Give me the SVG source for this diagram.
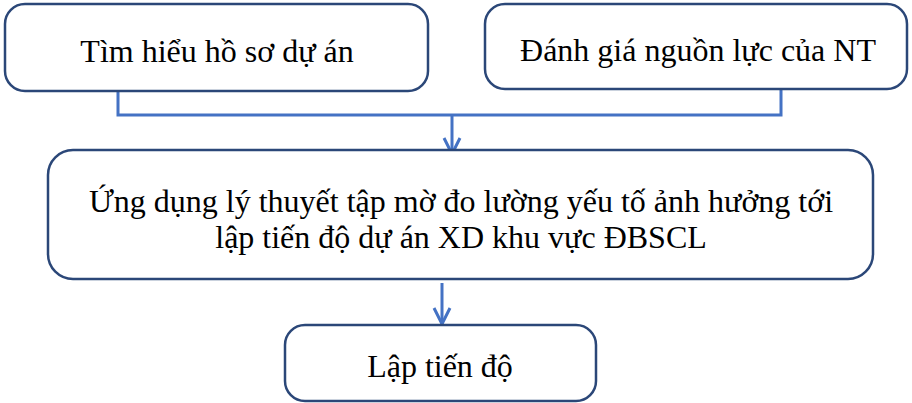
<svg xmlns="http://www.w3.org/2000/svg" width="912" height="403" viewBox="0 0 912 403">
<style>
.box{fill:#fff;stroke:#2B4778;stroke-width:2.5}
.t{font-family:"Liberation Serif","Times New Roman",serif;font-size:32px;fill:#000;text-anchor:middle}
.c{fill:none;stroke:#4472C4;stroke-width:3}
</style>
<defs>
<marker id="ah" viewBox="0 0 20 20" refX="18" refY="10" markerWidth="20" markerHeight="20" markerUnits="userSpaceOnUse" orient="auto">
<path d="M2,2 L18,10 L2,18" fill="none" stroke="#4472C4" stroke-width="3"/>
</marker>
</defs>
<g id="connectors">
<polyline class="c" points="118,91 118,115 781,115 781,89"/>
<line class="c" x1="452" y1="115" x2="452" y2="154" marker-end="url(#ah)"/>
<line class="c" x1="442" y1="283" x2="442" y2="324" marker-end="url(#ah)"/>
</g>
<g id="n1">
<rect class="box" x="5" y="4" width="423" height="87" rx="20"/>
<text class="t" x="217" y="62">Tìm hiểu hồ sơ dự án</text>
</g>
<g id="n2">
<rect class="box" x="485" y="4" width="422" height="85" rx="20"/>
<text class="t" x="698" y="61">Đánh giá nguồn lực của NT</text>
</g>
<g id="n3">
<rect class="box" x="48" y="150" width="825" height="129" rx="25"/>
<text class="t" x="461" y="212">Ứng dụng lý thuyết tập mờ đo lường yếu tố ảnh hưởng tới</text>
<text class="t" x="461" y="248">lập tiến độ dự án XD khu vực ĐBSCL</text>
</g>
<g id="n4">
<rect class="box" x="285" y="325" width="311" height="76" rx="20"/>
<text class="t" x="440" y="377">Lập tiến độ</text>
</g>
</svg>
